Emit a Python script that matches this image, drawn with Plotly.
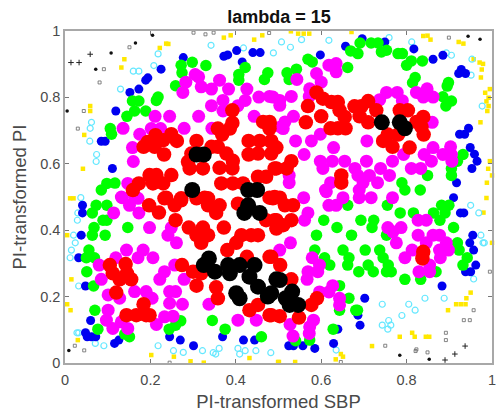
import plotly.graph_objects as go

plus_pts = [(.014,.905),(.033,.905),(.059,.930),(.937,.051),(.913,.027),(.890,.009)]
dot_pts = [(.005,.759),(.072,.885),(.108,.934),(.165,.964),(.205,.987),(.944,.984),(.972,.975),(.009,.038),(.784,.023),(.853,.011)]
opensq_pts = [(.03,.706),(.044,.759),(.081,.845),(.091,.885),(.151,.951),(.301,.995),(.329,.990),(.348,.995),(.478,.994),(.899,.980),
 (.023,.052),(.045,.038),(.245,.001),(.995,.275),(.957,.159),(.934,.129),(.948,.129),(.892,.091),(.892,.069),(.750,.052),(.823,.041),(.821,.036),(.849,.032),(.646,.003)]
yellow_pts = [(.045,.687),(.059,.774),(.059,.759),(.042,.585),(.132,.890),(.139,.915),(.222,.949),(.237,.962),(.242,.961),(.372,.980),(.388,.987),(.443,.974),(.462,.987),(.012,.496),(.020,.496),
 (.529,.999),(.546,.992),(.559,.992),(.572,.992),(.671,.997),(.839,.985),(.849,.986),(.856,.974),(.922,.967),(.933,.962),(.957,.915),(.971,.905),(.979,.901),(.976,.884),(.974,.860),(.984,.814),(.995,.825),(.987,.788),(.992,.799),(.992,.774),(.989,.759),(.973,.725),(.995,.608),(.991,.585),(1.0,.565),(.988,.543),(.987,.497),
 (.005,.385),(.015,.252),(.005,.177),(.013,.159),(.030,.069),(.202,.024),(.255,.019),(.294,.005),(.325,.001),(.432,.015),(.499,.003),
 (.980,.453),(1.0,.362),(.950,.212),(.940,.195),(.916,.177),(.927,.177),(.938,.177),(.897,.159),(.784,.079),(.813,.091),(.819,.079),(.845,.079),(.853,.079),(.719,.051),(.646,.027),(.651,.019),(.634,.011),(.501,.003),(.539,.003)]
cyan_pts = [(.037,.498),(.058,.668),(.059,.707),(.062,.725),(.074,.628),(.073,.607),(.130,.825),(.160,.879),(.173,.879),(.208,.896),(.218,.931),(.342,.957),(.418,.949),(.488,.934),(.507,.967),
 (.528,.951),(.554,.974),(.618,.972),(.759,.980),(.812,.967),(.893,.934),(.905,.927),(.953,.915),(.951,.867),(.977,.774),
 (.030,.452),(.029,.430),(.020,.385),(.024,.362),(.015,.340),(.012,.317),(.032,.232),(.028,.091),(.032,.091),(.071,.059),(.091,.052),(.218,.052),(.254,.037),(.277,.032),(.322,.037),(.347,.031),(.353,.027),(.361,.044),(.405,.044),(.409,.027),(.422,.037),(.447,.037),(.482,.031),
 (.950,.475),(.969,.452),(.974,.385),(.979,.362),(.982,.362),(.957,.253),(.888,.195),(.843,.195),(.743,.177),(.805,.177),(.820,.159),(.789,.143),(.758,.128),(.743,.114),(.763,.114),(.756,.102),(.635,.039)]
blue_pts = [(.085,.668),(.094,.668),(.111,.586),(.119,.759),(.152,.815),(.173,.825),(.189,.852),(.194,.859),(.225,.885),(.277,.920),(.372,.924),(.381,.928),(.402,.941),(.415,.907),(.440,.935),(.457,.935),
 (.598,.928),(.657,.954),(.696,.977),(.749,.967),(.817,.946),(.862,.915),(.885,.927),(.922,.872),(.928,.884),(.938,.872),(.945,.707),(.924,.689),(.936,.689),(.949,.649),(.959,.629),(.965,.608),(.953,.586),(.917,.543),(.910,.498),
 (.041,.475),(.041,.452),(.038,.385),(.032,.317),(.048,.232),(.060,.128),(.048,.091),(.052,.079),(.062,.079),(.072,.079),(.116,.059),(.126,.069),(.245,.079),(.270,.069),(.301,.052),(.369,.079),(.418,.069),(.444,.069),
 (.926,.452),(.934,.452),(.955,.385),(.948,.362),(.957,.340),(.962,.295),(.938,.275),(.950,.275),(.883,.232),(.702,.195),(.686,.144),(.691,.114),(.639,.102),(.629,.059),(.585,.044),(.557,.052),(.524,.052),(.535,.052)]
green_pts = [(.106,.706),(.109,.689),(.085,.521),(.098,.541),(.117,.542),(.145,.743),(.158,.789),(.173,.789),(.163,.759),(.189,.759),(.214,.791),(.218,.801),(.259,.835),(.272,.897),(.274,.874),(.298,.906),(.330,.896),(.407,.869),(.407,.852),(.422,.890),(.467,.854),(.475,.874),
 (.520,.874),(.525,.854),(.542,.885),(.569,.915),(.579,.907),(.662,.890),(.669,.940),(.686,.932),(.691,.964),(.717,.964),(.733,.964),(.741,.937),(.753,.942),(.780,.932),(.790,.932),(.800,.897),(.811,.910),(.837,.910),(.820,.860),(.814,.844),(.898,.845),(.895,.834),(.885,.802),(.905,.789),(.892,.774),(.932,.628),(.919,.608),(.905,.586),(.905,.565),(.849,.565),(.789,.543),(.796,.521),(.832,.521),
 (.073,.475),(.064,.452),(.098,.475),(.089,.430),(.098,.430),(.068,.408),(.064,.385),(.094,.385),(.147,.408),(.056,.340),(.050,.317),(.069,.317),(.051,.275),(.067,.232),(.070,.159),(.077,.102),(.151,.079),(.140,.087),(.244,.102),(.259,.114),(.271,.127),(.345,.128),(.375,.102),(.460,.079),
 (.662,.475),(.755,.475),(.785,.452),(.816,.452),(.863,.452),(.882,.475),(.899,.475),(.890,.452),(.878,.430),(.910,.408),(.606,.430),(.637,.408),(.589,.385),(.671,.385),(.693,.430),(.723,.430),(.719,.408),(.753,.385),(.585,.340),(.608,.317),(.620,.295),(.651,.340),(.665,.317),(.662,.295),(.703,.340),(.737,.340),(.745,.317),(.757,.295),(.710,.295),(.722,.275),(.688,.275),(.753,.275),(.764,.275),(.796,.252),(.833,.252),(.869,.275),(.919,.362),(.923,.340),(.942,.317),(.932,.295),(.643,.233),(.665,.195),(.643,.159),(.681,.159),(.685,.159),(.628,.102),(.540,.067),(.573,.069)]
magenta_pts = [(.136,.707),(.158,.649),(.175,.689),(.160,.607),(.211,.743),(.245,.743),(.202,.706),(.224,.706),(.279,.707),(.313,.743),(.344,.707),(.276,.815),(.283,.846),(.305,.869),(.313,.862),(.319,.832),(.343,.825),(.362,.852),(.383,.825),(.343,.775),(.370,.791),(.370,.759),(.426,.825),(.422,.791),(.405,.775),(.454,.801),(.443,.743),(.479,.803),(.503,.791),(.505,.711),(.147,.541),(.132,.500),(.163,.500),
 (.543,.854),(.589,.872),(.600,.846),(.618,.897),(.635,.902),(.635,.877),(.573,.826),(.572,.803),(.530,.803),(.487,.801),(.503,.776),(.535,.743),(.515,.726),(.511,.706),(.753,.815),(.778,.815),(.737,.793),(.790,.790),(.823,.815),(.848,.826),(.839,.801),(.862,.801),(.860,.725),(.862,.649),(.841,.628),(.858,.608),(.885,.628),(.903,.651),(.905,.628),(.906,.608),(.833,.586),(.811,.586),(.767,.608),(.793,.628),(.760,.565),(.739,.586),(.706,.608),(.707,.669),(.629,.649),(.598,.689),(.577,.669),(.540,.669),(.560,.628),(.598,.608),(.626,.608),(.655,.608),(.604,.586),(.679,.586),(.686,.565),(.713,.565),(.732,.543),(.698,.543),(.622,.543),(.610,.521),(.689,.521),(.525,.565),(.525,.543),(.559,.498),(.651,.498),(.689,.498),(.717,.498),(.767,.498),
 (.114,.452),(.134,.498),(.151,.475),(.171,.496),(.173,.452),(.198,.408),(.249,.408),(.241,.385),(.261,.362),(.144,.340),(.119,.317),(.080,.295),(.085,.252),(.183,.340),(.171,.317),(.206,.317),(.257,.295),(.233,.275),(.222,.252),(.279,.252),(.101,.205),(.128,.195),(.101,.159),(.097,.129),(.112,.104),(.132,.124),(.147,.104),(.163,.215),(.190,.215),(.204,.195),(.245,.215),(.259,.215),(.245,.180),(.275,.177),(.253,.141),(.233,.139),(.214,.116),(.337,.177),(.405,.129),(.448,.129),
 (.569,.452),(.561,.430),(.528,.362),(.503,.340),(.579,.317),(.596,.295),(.569,.275),(.592,.275),(.567,.252),(.627,.233),(.596,.214),(.618,.214),(.643,.195),(.643,.175),(.582,.129),(.573,.109),(.572,.089),(.527,.116),(.534,.081),(.612,.516),(.618,.475),(.635,.475),(.756,.408),(.787,.408),(.768,.395),(.776,.362),(.827,.430),(.846,.430),(.827,.385),(.862,.385),(.877,.385),(.846,.362),(.893,.362),(.877,.340),(.898,.340),(.879,.317),(.796,.317),(.813,.340),(.854,.295),(.829,.275),(.854,.275)]
red_pts = [(.159,.521),(.184,.651),(.194,.666),(.212,.686),(.210,.651),(.230,.671),(.232,.628),(.249,.689),(.262,.669),(.308,.669),(.296,.631),(.288,.606),(.292,.586),(.323,.586),(.343,.651),(.358,.651),(.358,.706),(.368,.688),(.378,.631),(.393,.609),(.362,.588),(.392,.586),(.392,.761),(.392,.723),(.386,.706),(.430,.669),(.456,.669),(.430,.628),(.452,.631),(.464,.726),(.479,.726),(.479,.706),(.483,.666),(.483,.631),(.495,.586),(.471,.561),(.452,.561),(.198,.566),(.214,.566),(.206,.541),(.249,.566),(.230,.541),(.173,.541),(.366,.541),(.393,.541),(.417,.541),(.233,.496),(.272,.496),(.335,.496),(.308,.496),(.487,.496),
 (.589,.815),(.604,.796),(.624,.786),(.639,.786),(.569,.774),(.643,.761),(.655,.741),(.600,.743),(.564,.725),(.622,.707),(.657,.707),(.639,.707),(.678,.773),(.710,.789),(.690,.743),(.710,.725),(.729,.761),(.694,.773),(.784,.761),(.803,.761),(.839,.741),(.823,.726),(.835,.711),(.840,.688),(.745,.669),(.756,.688),(.780,.688),(.767,.651),(.807,.649),(.479,.721),(.483,.669),(.495,.649),(.491,.586),(.519,.586),(.530,.608),(.647,.565),(.647,.543),(.489,.498),
 (.105,.295),(.142,.298),(.112,.270),(.145,.270),(.128,.252),(.155,.252),(.120,.212),(.144,.144),(.167,.144),(.184,.177),(.190,.144),(.198,.144),(.197,.475),(.220,.453),(.237,.498),(.257,.475),(.272,.490),(.259,.430),(.290,.408),(.323,.408),(.308,.385),(.335,.385),(.319,.362),(.327,.498),(.335,.475),(.362,.475),(.354,.452),(.372,.408),(.405,.480),(.413,.385),(.436,.385),(.452,.385),(.401,.362),(.380,.340),(.426,.320),(.274,.295),(.300,.275),(.319,.270),(.308,.233),(.354,.228),(.358,.195),(.432,.159),(.452,.175),(.479,.144),(.479,.320),(.495,.430),(.479,.498),(.503,.498),(.471,.430),
 (.491,.500),(.515,.475),(.534,.475),(.491,.430),(.511,.415),(.530,.430),(.495,.405),(.483,.320),(.504,.295),(.530,.252),(.590,.195),(.577,.175),(.548,.137),(.503,.141),(.483,.144),(.839,.335),(.837,.315)]
black_pts = [(.308,.628),(.325,.628),(.298,.521),(.429,.521),(.450,.521),(.742,.725),(.784,.725),(.796,.707),
 (.429,.475),(.420,.452),(.456,.452),(.337,.315),(.325,.295),(.351,.275),(.382,.295),(.409,.295),(.386,.270),(.444,.295),(.432,.260),(.401,.210),(.409,.195),(.452,.230),(.475,.200),(.503,.250),
 (.495,.252),(.483,.210),(.532,.215),(.517,.195),(.526,.175),(.546,.175)]

tick_vals = [0, 0.2, 0.4, 0.6, 0.8, 1]
tick_text = ["0", "0.2", "0.4", "0.6", "0.8", "1"]
GREY = "#4a4a4a"


def add(fig, pts, **marker):
    fig.add_trace(go.Scatter(x=[p[0] for p in pts], y=[p[1] for p in pts], mode="markers",
                             marker=marker, cliponaxis=False, showlegend=False))


fig = go.Figure()
add(fig, plus_pts, symbol="cross-thin", size=4, color="#222222", line=dict(width=1, color="#222222"))
add(fig, dot_pts, symbol="circle", size=3.5, color="#111111")
add(fig, opensq_pts, symbol="square-open", size=3, color="#666666", line=dict(width=0.8, color="#666666"))
add(fig, yellow_pts, symbol="square", size=4.5, color="#ffe800")
add(fig, cyan_pts, symbol="circle-open", size=6, color="#66e8ff", line=dict(width=1.2, color="#66e8ff"))
add(fig, blue_pts, symbol="circle", size=9, color="#0000f0")
add(fig, green_pts, symbol="circle", size=11.5, color="#00ff00")
add(fig, magenta_pts, symbol="circle", size=13, color="#ff00ff")
add(fig, red_pts, symbol="circle", size=14.5, color="#ff0000")
add(fig, black_pts, symbol="circle", size=16, color="#000000")

axis = dict(range=[0, 1], tickvals=tick_vals, ticktext=tick_text, ticks="inside", ticklen=4, tickwidth=1,
            tickcolor="#777777", showline=True, linecolor="#a8a8a8", linewidth=1.5, mirror="ticks", showgrid=False,
            zeroline=False, automargin=False, tickfont=dict(family="Liberation Sans", size=14.5, color=GREY))
fig.update_layout(
    width=496, height=404, margin=dict(l=57, r=12, t=23, b=49), plot_bgcolor="white", paper_bgcolor="white",
    title=dict(text="<b>lambda = 15</b>", x=(279 - 8) / 496, xanchor="center", y=(404 - 9) / 404, yanchor="middle",
               font=dict(family="Liberation Sans", size=18, color="#111111")),
    xaxis=dict(axis, ticklabelstandoff=3,
               title=dict(text="PI-transformed SBP", font=dict(family="Liberation Sans", size=18.5, color=GREY))),
    yaxis=dict(axis, title=dict(text="PI-transformed PI", standoff=9, font=dict(family="Liberation Sans", size=18.5, color=GREY))),
)
fig.write_html("out.html")
